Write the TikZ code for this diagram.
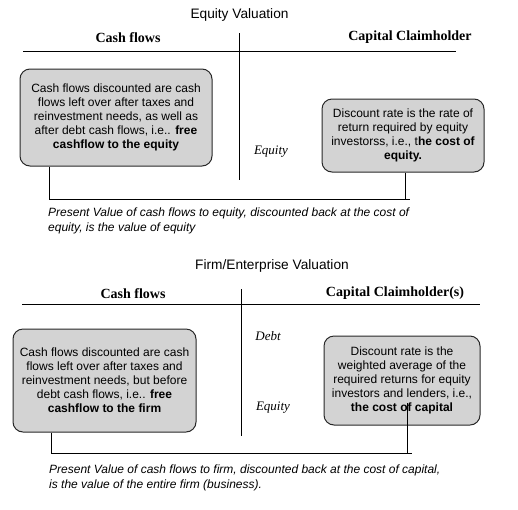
\documentclass[tikz,border=0pt]{standalone}
\usepackage{fontspec}
\setmainfont{Liberation Serif}
\setsansfont{Liberation Sans}
\definecolor{boxgray}{RGB}{211,211,211}
\definecolor{boxline}{RGB}{40,40,40}
\begin{document}
\begin{tikzpicture}[x=1pt,y=-1pt,
  every node/.style={inner sep=0pt},
  title/.style={font=\sffamily\fontsize{13.7}{16}\selectfont},
  colhead/.style={font=\rmfamily\bfseries\fontsize{14}{16}\selectfont},
  side/.style={font=\rmfamily\itshape\fontsize{13}{15}\selectfont},
  infobox/.style={draw=boxline, line width=1pt, fill=boxgray, rounded corners=10pt,
    align=center, font=\sffamily\fontsize{12}{14}\selectfont},
  caption/.style={anchor=north west, align=left, font=\sffamily\itshape\fontsize{12}{14.5}\selectfont},
  rule/.style={line width=1pt, black}]
\useasboundingbox (0,0) rectangle (518,509);

% ---------- Equity valuation ----------
\node[title] (t1) at (239.5,15) {Equity Valuation};
\node[colhead] (h1a) at (128,38) {Cash flows};
\node[colhead] (h1b) at (410,37) {Capital Claimholder};
\coordinate (h1l) at (23,51);
\coordinate (h1r) at (456,51);
\coordinate (v1t) at (239,33);
\coordinate (v1b) at (239,180);
\draw[rule] (h1l) -- (h1r);
\draw[rule] (v1t) -- (v1b);

\node[infobox, minimum width=192pt, minimum height=97pt] (lb1) at (116,117.5)
 {Cash flows discounted are cash\\flows left over after taxes and\\reinvestment needs, as well as\\after debt cash flows, i.e.. \textbf{free}\\\textbf{cashflow to the equity}};
\node[infobox, minimum width=162pt, minimum height=73pt] (rb1) at (403,135.5)
 {Discount rate is the rate of\\return required by equity\\investorss, i.e., t\textbf{he cost of}\\\textbf{equity.}};
\node[side] (eq1) at (271,152) {Equity};

\coordinate (c1l) at (49,199);
\coordinate (c1r) at (410,199);
\coordinate (c1m) at (405,199);
\draw[rule] (lb1.south -| c1l) -- (c1l) -- (c1r);
\draw[rule] (rb1.south -| c1m) -- (c1m);

\node[caption] (cap1) at (48,208)
 {Present Value of cash flows to equity, discounted back at the cost of\\equity, is the value of equity};

% ---------- Firm valuation ----------
\node[title] (t2) at (272,266) {Firm/Enterprise Valuation};
\node[colhead] (h2a) at (133,293.5) {Cash flows};
\node[colhead] (h2b) at (395,293) {Capital Claimholder(s)};
\coordinate (h2l) at (22,304);
\coordinate (h2r) at (480,304);
\coordinate (v2t) at (241,289);
\coordinate (v2b) at (241,436);
\draw[rule] (h2l) -- (h2r);
\draw[rule] (v2t) -- (v2b);

\node[side] (debt) at (268,336) {Debt};
\node[side] (eq2) at (273,408) {Equity};

\node[infobox, minimum width=183pt, minimum height=103pt] (lb2) at (104.5,380.5)
 {Cash flows discounted are cash\\flows left over after taxes and\\reinvestment needs, but before\\debt cash flows, i.e.. \textbf{free}\\\textbf{cashflow to the firm}};
\node[infobox, minimum width=156pt, minimum height=89pt] (rb2) at (402,380.5)
 {Discount rate is the\\weighted average of the\\required returns for equity\\investors and lenders, i.e.,\\\textbf{the cost of capital}};

\coordinate (c2l) at (51,453);
\coordinate (c2r) at (412,453);
\coordinate (c2m) at (407,453);
\coordinate (c2s) at (407,403);
\draw[rule] (lb2.south -| c2l) -- (c2l) -- (c2r);
\draw[rule] (c2s) -- (c2m);

\node[caption] (cap2) at (49,465)
 {Present Value of cash flows to firm, discounted back at the cost of capital,\\is the value of the entire firm (business).};
\end{tikzpicture}
\end{document}
